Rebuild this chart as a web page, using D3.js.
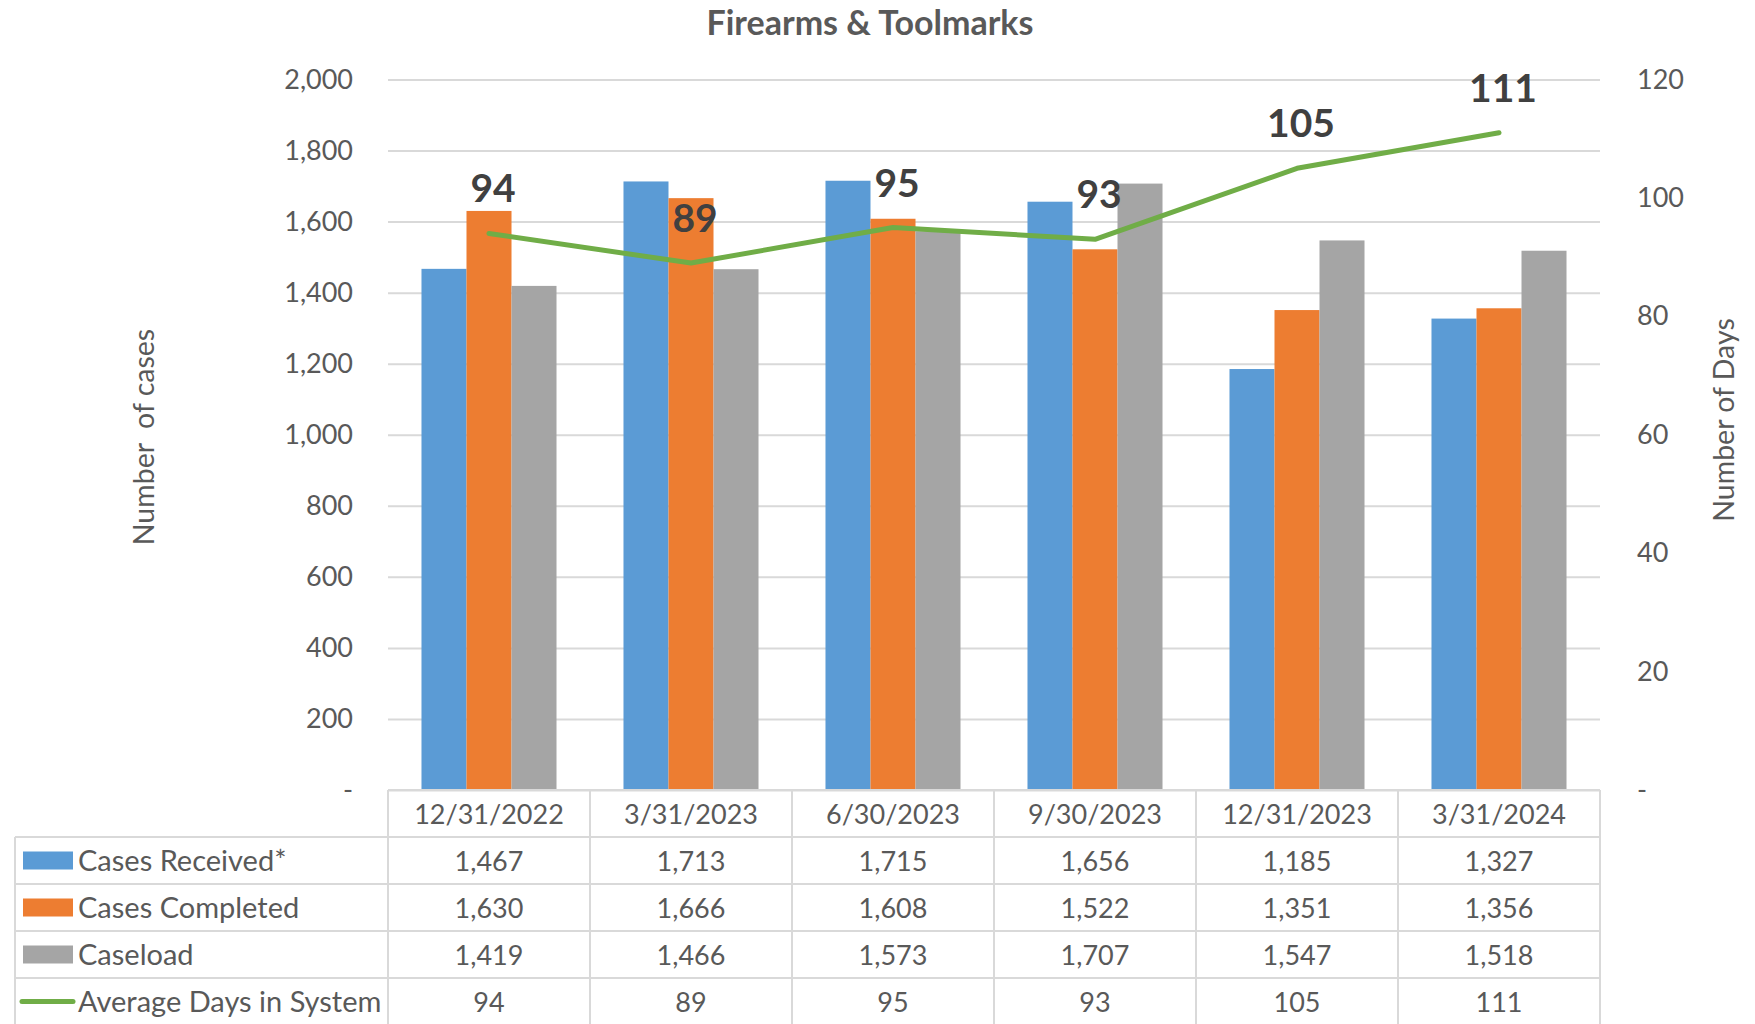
<!DOCTYPE html>
<html>
<head>
<meta charset="utf-8">
<script src="https://cdn.jsdelivr.net/npm/d3@7"></script>
<style>
  body { margin: 0; background: #fff; }
  svg text { font-family: Lato, "Open Sans", sans-serif; fill: #595959; }
</style>
</head>
<body>
<svg id="chart" width="1755" height="1024"></svg>
<script>
// data
var categories = ['12/31/2022', '3/31/2023', '6/30/2023', '9/30/2023', '12/31/2023', '3/31/2024'];
var received = [1467, 1713, 1715, 1656, 1185, 1327];
var completed = [1630, 1666, 1608, 1522, 1351, 1356];
var caseload = [1419, 1466, 1573, 1707, 1547, 1518];
var avgDays = [94, 89, 95, 93, 105, 111];

var seriesNames = ['Cases Received*', 'Cases Completed', 'Caseload', 'Average Days in System'];
var leftTicks = [0, 200, 400, 600, 800, 1000, 1200, 1400, 1600, 1800, 2000];
var rightTicks = [0, 20, 40, 60, 80, 100, 120];

var colors = ['#5B9BD5', '#ED7D31', '#A5A5A5', '#70AD47'];
var fmt = d3.format(',');

var svg = d3.select('#chart');
var plot = {left: 388, right: 1600, top: 79.5, bottom: 790};

var x = d3.scaleBand()
  .domain(categories)
  .range([plot.left, plot.right]);

var xs = d3.scaleBand()
  .domain([0, 1, 2])
  .range([0, x.bandwidth()])
  .paddingOuter(0.744);

var yL = d3.scaleLinear().domain([0, 2000]).range([plot.bottom, plot.top]);
var yR = d3.scaleLinear().domain([0, 120]).range([plot.bottom, plot.top]);

// title
svg.append('text')
  .attr('x', 870).attr('y', 35)
  .attr('text-anchor', 'middle')
  .style('font-size', '34px').style('font-weight', 'bold')
  .text('Firearms & Toolmarks');

// gridlines + left axis
var gL = svg.append('g')
  .attr('transform', 'translate(' + plot.left + ',0)')
  .call(d3.axisLeft(yL).tickValues(leftTicks).tickSize(-(plot.right - plot.left)).tickPadding(35)
    .tickFormat(function(d) { return d === 0 ? '-' : fmt(d); }));
gL.select('.domain').remove();
gL.selectAll('.tick line').attr('stroke', '#D9D9D9').attr('stroke-width', 2);
gL.selectAll('.tick text').style('font-size', '27px').attr('fill', '#595959');

// right axis
var gR = svg.append('g')
  .attr('transform', 'translate(' + plot.right + ',0)')
  .call(d3.axisRight(yR).tickValues(rightTicks).tickSize(0).tickPadding(37)
    .tickFormat(function(d) { return d === 0 ? '-' : d; }));
gR.select('.domain').remove();
gR.selectAll('.tick text').style('font-size', '27px').attr('fill', '#595959');

// axis titles
svg.append('text')
  .attr('transform', 'translate(154,437) rotate(-90)')
  .attr('text-anchor', 'middle')
  .style('font-size', '28.5px')
  .style('white-space', 'pre')
  .text('Number  of cases');

svg.append('text')
  .attr('transform', 'translate(1734,420) rotate(-90)')
  .attr('text-anchor', 'middle')
  .style('font-size', '28.5px')
  .text('Number of Days');

// bars
var barData = [];
categories.forEach(function(c, i) {
  [received, completed, caseload].forEach(function(s, j) {
    barData.push({cat: c, s: j, v: s[i]});
  });
});

svg.append('g').selectAll('rect.bar')
  .data(barData)
  .enter()
    .append('rect')
    .classed('bar', true)
    .attr('x', function(d) { return x(d.cat) + xs(d.s); })
    .attr('y', function(d) { return yL(d.v); })
    .attr('width', xs.bandwidth())
    .attr('height', function(d) { return yL(0) - yL(d.v); })
    .attr('fill', function(d) { return colors[d.s]; });

// line
var line = d3.line()
  .x(function(d, i) { return x(categories[i]) + x.bandwidth() / 2; })
  .y(function(d) { return yR(d); });

svg.append('path')
  .datum(avgDays)
  .attr('d', line)
  .attr('fill', 'none')
  .attr('stroke', colors[3])
  .attr('stroke-width', 5)
  .attr('stroke-linejoin', 'round')
  .attr('stroke-linecap', 'round');

svg.append('g').selectAll('text.label')
  .data(avgDays)
  .enter()
    .append('text')
    .classed('label', true)
    .attr('x', function(d, i) { return x(categories[i]) + x.bandwidth() / 2 + 4; })
    .attr('y', function(d) { return yR(d) - 31; })
    .attr('text-anchor', 'middle')
    .style('font-size', '39px').style('font-weight', 'bold')
    .style('fill', '#404040')
    .text(function(d) { return d; });

// data table
var rowH = 47;
var tableTop = plot.bottom;
var legendLeft = 15;
var rows = [received, completed, caseload, avgDays];
var table = svg.append('g');
var gridColor = '#D9D9D9';

// header row
table.append('line')
  .attr('x1', plot.left).attr('x2', plot.right)
  .attr('y1', tableTop).attr('y2', tableTop)
  .attr('stroke', gridColor).attr('stroke-width', 2);

table.selectAll('text.cat')
  .data(categories)
  .enter()
    .append('text')
    .classed('cat', true)
    .attr('x', function(d) { return x(d) + x.bandwidth() / 2; })
    .attr('y', tableTop + rowH / 2 + 10)
    .attr('text-anchor', 'middle')
    .style('font-size', '27px')
    .text(function(d) { return d; });

// horizontal rules for data rows
d3.range(5).forEach(function(r) {
  table.append('line')
    .attr('x1', legendLeft).attr('x2', plot.right)
    .attr('y1', tableTop + rowH * (r + 1)).attr('y2', tableTop + rowH * (r + 1))
    .attr('stroke', gridColor).attr('stroke-width', 2);
});

// vertical rules
var vx = categories.map(function(c) { return x(c); }).concat([plot.right]);
vx.forEach(function(v) {
  table.append('line')
    .attr('x1', v).attr('x2', v)
    .attr('y1', tableTop).attr('y2', tableTop + rowH * 5)
    .attr('stroke', gridColor).attr('stroke-width', 2);
});
table.append('line')
  .attr('x1', legendLeft).attr('x2', legendLeft)
  .attr('y1', tableTop + rowH).attr('y2', tableTop + rowH * 5)
  .attr('stroke', gridColor).attr('stroke-width', 2);

rows.forEach(function(vals, r) {
  var cy = tableTop + rowH * (r + 1) + rowH / 2;
  if (r < 3) {
    table.append('rect')
      .attr('x', 23).attr('y', cy - 9)
      .attr('width', 50).attr('height', 18)
      .attr('fill', colors[r]);
  } else {
    table.append('line')
      .attr('x1', 22).attr('x2', 73)
      .attr('y1', cy).attr('y2', cy)
      .attr('stroke', colors[3]).attr('stroke-width', 5)
      .attr('stroke-linecap', 'round');
  }
  table.append('text')
    .attr('x', 78).attr('y', cy + 10)
    .style('font-size', '29px')
    .text(seriesNames[r]);

  table.selectAll(null)
    .data(vals)
    .enter()
      .append('text')
      .attr('x', function(d, i) { return x(categories[i]) + x.bandwidth() / 2; })
      .attr('y', cy + 10)
      .attr('text-anchor', 'middle')
      .style('font-size', '27px')
      .text(function(d) { return fmt(d); });
});
</script>
</body>
</html>
